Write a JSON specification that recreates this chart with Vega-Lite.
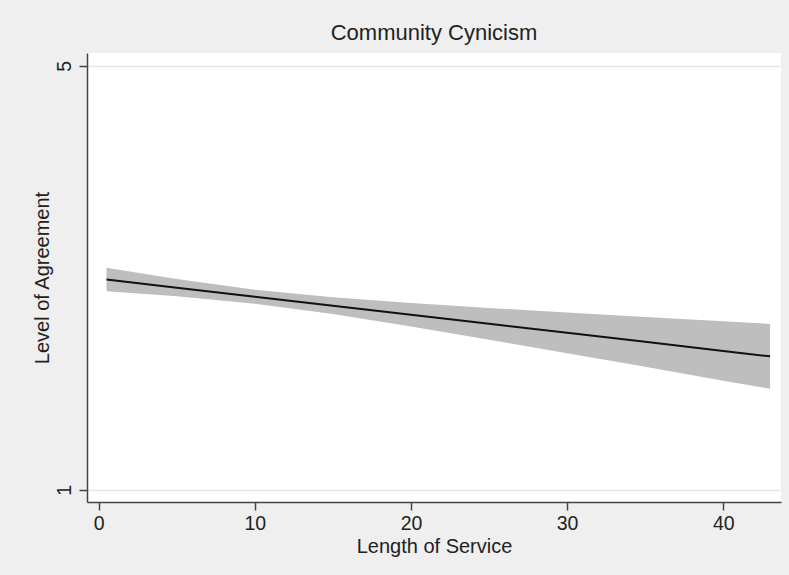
{
  "$schema": "https://vega.github.io/schema/vega-lite/v6.json",
  "width": 694,
  "height": 449,
  "autosize": {"type": "none"},
  "padding": {"left": 87, "top": 53, "right": 8, "bottom": 73},
  "background": "#efefef",
  "title": {
    "text": "Community Cynicism",
    "font": "Liberation Sans",
    "fontSize": 22,
    "fontWeight": "normal",
    "color": "#222222",
    "anchor": "middle",
    "baseline": "alphabetic",
    "offset": -9
  },
  "config": {
    "view": {"fill": "white", "stroke": null},
    "axis": {
      "labelFont": "Liberation Sans",
      "titleFont": "Liberation Sans",
      "labelFontSize": 19.5,
      "titleFontSize": 20,
      "titleFontWeight": "normal",
      "labelColor": "#222222",
      "titleColor": "#222222",
      "domainColor": "#444444",
      "tickColor": "#444444",
      "domainWidth": 1.5,
      "tickWidth": 1.5,
      "tickSize": 8
    }
  },
  "data": {
    "values": [
      {"x": 0.5, "fit": 2.983, "lo": 2.873, "hi": 3.093},
      {"x": 5, "fit": 2.906, "lo": 2.825, "hi": 2.987},
      {"x": 10, "fit": 2.821, "lo": 2.755, "hi": 2.887},
      {"x": 15, "fit": 2.736, "lo": 2.657, "hi": 2.815},
      {"x": 20, "fit": 2.650, "lo": 2.539, "hi": 2.761},
      {"x": 25, "fit": 2.565, "lo": 2.415, "hi": 2.715},
      {"x": 30, "fit": 2.480, "lo": 2.288, "hi": 2.672},
      {"x": 35, "fit": 2.395, "lo": 2.160, "hi": 2.630},
      {"x": 40, "fit": 2.309, "lo": 2.029, "hi": 2.589},
      {"x": 43, "fit": 2.258, "lo": 1.952, "hi": 2.564}
    ]
  },
  "encoding": {
    "x": {
      "field": "x",
      "type": "quantitative",
      "scale": {"domain": [-0.75, 43.7], "nice": false, "zero": false},
      "axis": {
        "title": "Length of Service",
        "values": [0, 10, 20, 30, 40],
        "format": "d",
        "grid": false,
        "labelBaseline": "alphabetic",
        "labelPadding": 19,
        "titleBaseline": "alphabetic",
        "titleY": 50,
        "titleX": 347
      }
    }
  },
  "layer": [
    {
      "mark": {"type": "area", "color": "#bebebe", "opacity": 1},
      "encoding": {
        "y": {
          "field": "lo",
          "type": "quantitative",
          "scale": {"domain": [0.884, 5.12], "nice": false, "zero": false},
          "axis": {
            "title": "Level of Agreement",
            "values": [1, 5],
            "format": "d",
            "grid": true,
            "gridColor": "#e6e6e6",
            "gridWidth": 1.5,
            "labelAngle": 270,
            "labelAlign": "center",
            "labelBaseline": "alphabetic",
            "labelPadding": 9,
            "titleAngle": 270,
            "titleBaseline": "alphabetic",
            "titleAlign": "center",
            "titleX": -39,
            "titleY": 224.5
          }
        },
        "y2": {"field": "hi"}
      }
    },
    {
      "mark": {"type": "line", "color": "#111111", "strokeWidth": 2},
      "encoding": {
        "y": {"field": "fit", "type": "quantitative"}
      }
    }
  ]
}
